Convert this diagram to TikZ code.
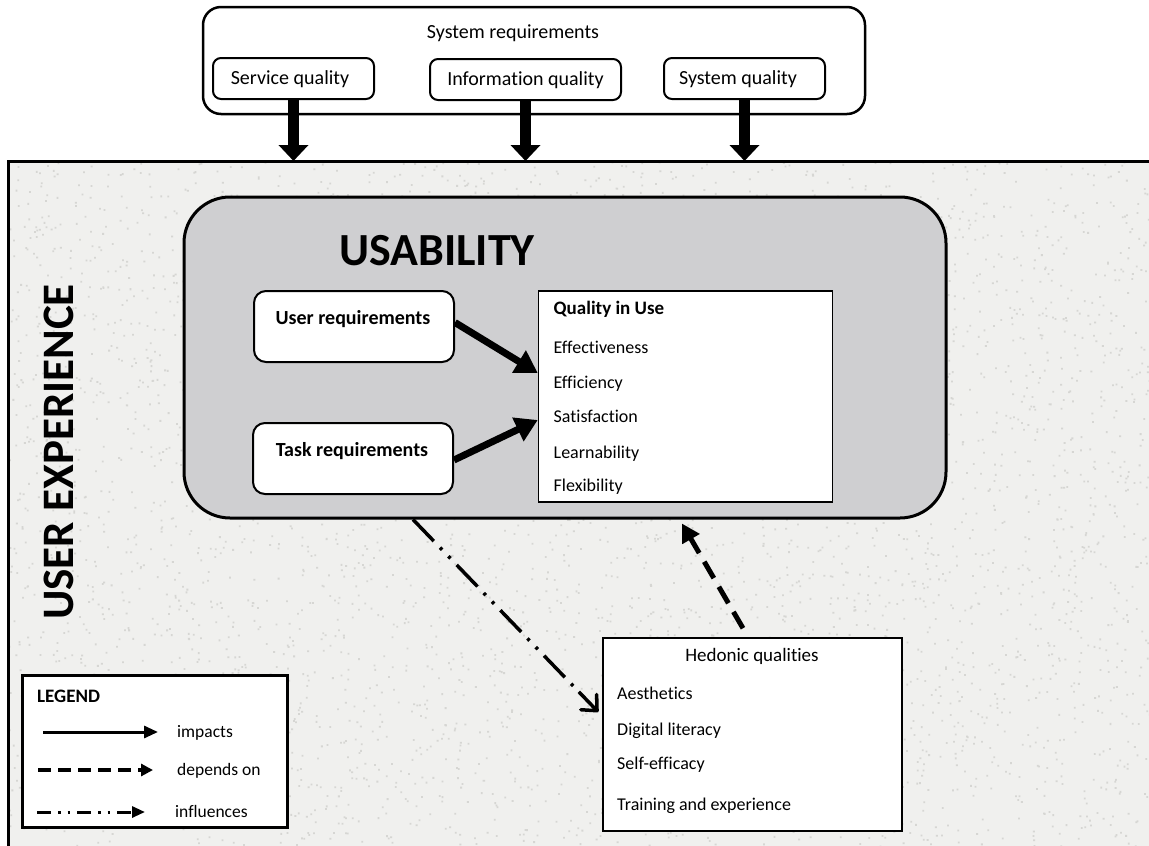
\documentclass[tikz,border=0pt]{standalone}
\usepackage{fontspec}
\setmainfont{Carlito}[Ligatures=CommonOff]
\usetikzlibrary{arrows.meta,calc}
\definecolor{uxbg}{RGB}{240,240,238}
\definecolor{uxspeck}{RGB}{214,214,211}
\definecolor{usegray}{RGB}{207,207,209}

\newcommand{\fs}[1]{\fontsize{#1pt}{#1pt}\selectfont}

\begin{document}
\begin{tikzpicture}[x=1pt,y=-1pt,
  reqbox/.style={draw, line width=2pt, rounded corners=8pt, fill=white, inner sep=0pt},
  softbox/.style={draw, line width=2pt, rounded corners=12pt, fill=white, inner sep=0pt,
                  minimum width=200pt, minimum height=71pt},
  listbox/.style={draw, line width=1.5pt, fill=white, inner sep=0pt},
  small/.style={font=\fs{20}, inner sep=0pt},
  item/.style={font=\fs{18}, inner sep=0pt, anchor=base west},
  bigarrow/.style={line width=11pt, -{Triangle[width=29pt,length=16pt]}},
  impactarrow/.style={line width=7pt, -{Triangle[width=25pt,length=22pt]}},
  dependarrow/.style={line width=5pt, dash pattern=on 19pt off 10pt,
                      -{Triangle[width=19pt,length=18pt]}},
  influenceline/.style={line width=3.5pt,
                      dash pattern=on 30pt off 9pt on 3pt off 9pt on 3pt off 9pt},
  influencetip/.style={line width=3.5pt, solid,
                      -{Straight Barb[length=12pt,width=22pt,round]}},
]
\useasboundingbox (0,0) rectangle (1149,846);

% user experience area, a light speckled granite fill
\fill[uxbg] (8,161) rectangle (1149,846);
\pgfmathsetseed{4711}
\begin{scope}
  \clip (8,161) rectangle (1149,846);
  \fill[uxspeck] \foreach \k in {1,...,4500}{
    ({8+1141*rnd},{161+685*rnd}) rectangle ++(1.8,1.8)
  };
\end{scope}
\draw[line width=3pt] (1149,161) -- (8,161) -- (8,846);
\coordinate (uxtop) at (8,161);
\node[rotate=90, font=\fs{45}\bfseries, inner sep=0pt] (uxtitle) at (59,452) {USER EXPERIENCE};

% system requirements
\node[draw, line width=2.5pt, rounded corners=18pt, fill=white, inner sep=0pt,
      minimum width=662pt, minimum height=107pt] (sysreq) at (534,60.5) {};
\node[small, anchor=base] (sysreqtitle) at (513,38) {System requirements};
\node[reqbox, minimum width=161pt, minimum height=41pt] (sq) at (293.5,78.5) {};
\node[small, anchor=base] (sqlabel) at (290,84) {Service quality};
\node[reqbox, minimum width=191pt, minimum height=41pt] (iq) at (525.5,79.5) {};
\node[small, anchor=base] (iqlabel) at (525.5,85) {Information quality};
\node[reqbox, minimum width=161pt, minimum height=41pt] (syq) at (744.5,78.5) {};
\node[small, anchor=base] (syqlabel) at (738,84) {System quality};

\draw[bigarrow] (sq.south) -- (sq.south |- uxtop);
\draw[bigarrow] (iq.south) -- (iq.south |- uxtop);
\draw[bigarrow] (syq.south) -- (syq.south |- uxtop);

% usability
\node[draw, line width=3pt, fill=usegray, rounded corners=46pt, inner sep=0pt,
      minimum width=762pt, minimum height=321pt] (usab) at (565,357.5) {};
\node[font=\fs{46}\bfseries, inner sep=0pt] (usabtitle) at (437,251) {USABILITY};

\node[softbox] (ur) at (354,326.5) {};
\node[font=\fs{20}\bfseries, inner sep=0pt, anchor=base] (urlabel) at (353,324) {User requirements};
\node[softbox] (tr) at (353,458.5) {};
\node[font=\fs{20}\bfseries, inner sep=0pt, anchor=base] (trlabel) at (352,456) {Task requirements};

\node[listbox, minimum width=294pt, minimum height=211pt] (qu) at (685.5,396.5) {};
\node[item, font=\fs{19}\bfseries] (qutitle) at (553.5,314) {Quality in Use};
\node[item] (qu1) at (553.5,353) {Effectiveness};
\node[item] (qu2) at (553.5,388) {Efficiency};
\node[item] (qu3) at (553.5,422) {Satisfaction};
\node[item] (qu4) at (553.5,458) {Learnability};
\node[item] (qu5) at (553.5,491) {Flexibility};

\draw[impactarrow] ([yshift=4pt]ur.east) -- ([yshift=23.5pt]qu.west);
\draw[impactarrow] ([yshift=-1.5pt]tr.east) -- ([yshift=-23.5pt]qu.west);

% hedonic qualities
\node[listbox, minimum width=299pt, minimum height=193pt] (hed) at (752.5,734.5) {};
\node[font=\fs{19}, inner sep=0pt, anchor=base] (hedtitle) at (752,661) {Hedonic qualities};
\node[item] (hed1) at (617,699) {Aesthetics};
\node[item] (hed2) at (617,735) {Digital literacy};
\node[item] (hed3) at (617,769) {Self-efficacy};
\node[item] (hed4) at (617,810) {Training and experience};

% usability influences the hedonic qualities; the last stretch ends in a solid barb
\coordinate (inflfrom) at ([xshift=-152pt]usab.south);
\coordinate (inflto) at ([shift={(-4pt,22.5pt)}]hed.west);
\coordinate (inflbarb) at ($(inflto)!28pt!(inflfrom)$);
\draw[influenceline] (inflfrom) -- (inflbarb);
\draw[influencetip] (inflbarb) -- (inflto);
\draw[dependarrow] ([shift={(-9.5pt,9pt)}]hed.north) -- ([shift={(117pt,-4pt)}]usab.south);

% legend
\node[draw, line width=3pt, fill=white, inner sep=0pt,
      minimum width=265pt, minimum height=152pt] (legend) at (154.5,751) {};
\node[item, font=\fs{19}\bfseries] (legendtitle) at (37,702) {LEGEND};
\node[item, font=\fs{17.5}] (limpacts) at (177,737) {impacts};
\node[item, font=\fs{17.5}] (ldepends) at (177,775) {depends on};
\node[item, font=\fs{17.5}] (linfluences) at (175,817) {influences};
\coordinate (limpactsfrom) at (43,732);
\coordinate (limpactsto) at (158,732);
\coordinate (ldependsfrom) at (38,770);
\coordinate (ldependsto) at (153,770);
\coordinate (linfluencesfrom) at (37,812);
\coordinate (linfluencesto) at (145,812);
\draw[line width=3pt, -{Triangle[width=12pt,length=14pt]}] (limpactsfrom) -- (limpactsto);
\draw[line width=3.5pt, dash pattern=on 13pt off 7pt, -{Triangle[width=12pt,length=12pt]}]
  (ldependsfrom) -- (ldependsto);
\draw[line width=3pt, dash pattern=on 14pt off 7pt on 2.5pt off 7pt on 2.5pt off 7pt,
      -{Triangle[width=11pt,length=13pt]}] (linfluencesfrom) -- (linfluencesto);
\end{tikzpicture}
\end{document}
